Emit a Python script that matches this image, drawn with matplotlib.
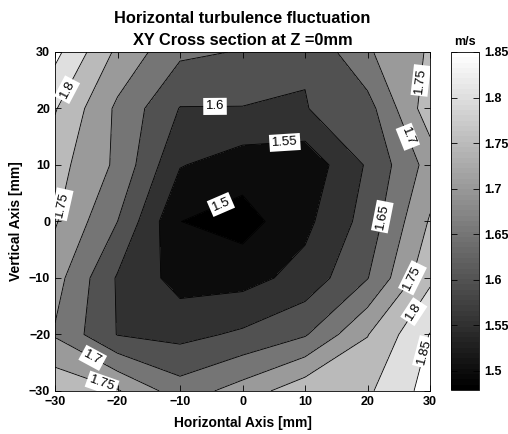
import numpy as np
import matplotlib
matplotlib.use("Agg")
import matplotlib.pyplot as plt
from matplotlib.colors import Normalize
from matplotlib.cm import ScalarMappable

plt.rcParams['font.family'] = ['Liberation Sans', 'DejaVu Sans']

# measurement grid [mm]
x_mm = [-30, -20, -10, 0, 10, 20, 30]
y_mm = [30, 20, 10, 0, -10, -20, -30]

# horizontal turbulence fluctuation [m/s], one row per y position (y = 30 first)
u_rms = [
    [1.864, 1.739, 1.660, 1.647, 1.604, 1.694, 1.756],
    [1.804, 1.690, 1.598, 1.598, 1.598, 1.630, 1.780],
    [1.770, 1.690, 1.553, 1.524, 1.515, 1.606, 1.720],
    [1.755, 1.650, 1.5005, 1.479, 1.537, 1.620, 1.755],
    [1.720, 1.595, 1.530, 1.5315, 1.568, 1.648, 1.790],
    [1.695, 1.598, 1.585, 1.6085, 1.645, 1.748, 1.852],
    [1.790, 1.755, 1.673, 1.722, 1.784, 1.792, 1.870],
]

levels = [1.5, 1.55, 1.6, 1.65, 1.7, 1.75, 1.8, 1.85]
cbar_ticks = [1.5, 1.55, 1.6, 1.65, 1.7, 1.75, 1.8, 1.85]

# where the contour labels go (x, y in mm)
label_pos = [(-27.5, 23.0), (-28.7, 3.0), (-4.4, 20.2), (6.8, 13.5),
             (-3.3, 2.6), (21.7, 1.0), (26.0, 14.8), (28.2, 25.0),
             (27.3, -10.0), (26.5, -15.3), (28.6, -23.0), (-24.0, -24.2),
             (-22.5, -28.8)]

X, Y = np.meshgrid(x_mm, y_mm)
Z = np.array(u_rms)

cmap = plt.get_cmap('gray', 64)
norm = Normalize(vmin=Z.min(), vmax=levels[-1])

# each band takes the colour of its lower level
bounds = [Z.min() - 1.0] + levels + [Z.max() + 1.0]
fill_colors = [cmap(norm(v)) for v in [Z.min()] + levels]

fig = plt.figure(figsize=(5.08, 4.34), dpi=100)
ax = fig.add_axes([0.1083, 0.0991, 0.7382, 0.7811])

ax.contourf(X, Y, Z, levels=bounds, colors=fill_colors)
cs = ax.contour(X, Y, Z, levels=levels, colors='k', linewidths=0.6)
texts = ax.clabel(cs, fmt='%g', manual=label_pos, inline=False, fontsize=9.5)
for t in texts:
    t.set_bbox(dict(facecolor='white', edgecolor='none', pad=1.8))

ax.set_xlim(-30, 30)
ax.set_ylim(-30, 30)
ax.set_xticks(range(-30, 31, 10))
ax.set_yticks(range(-30, 31, 10))
ax.tick_params(direction='in', top=True, right=True, length=4, width=0.6,
               labelsize=9)
for lbl in ax.get_xticklabels() + ax.get_yticklabels():
    lbl.set_fontweight('bold')
for sp in ax.spines.values():
    sp.set_linewidth(0.6)

ax.set_xlabel('Horizontal Axis [mm]', fontsize=10, fontweight='bold', labelpad=6)
ax.set_ylabel('Vertical Axis [mm]', fontsize=10, fontweight='bold', labelpad=4)
ax.set_title('Horizontal turbulence fluctuation\nXY Cross section at Z =0mm',
             fontsize=11.8, fontweight='bold', pad=5, linespacing=1.55)

cax = fig.add_axes([0.8878, 0.1014, 0.0551, 0.7788])
cb = fig.colorbar(ScalarMappable(norm=norm, cmap=cmap), cax=cax, ticks=cbar_ticks)
cb.set_ticklabels(['%g' % v for v in cbar_ticks])
cb.outline.set_linewidth(0.6)
cax.tick_params(direction='in', left=True, right=True, length=4, width=0.6,
                labelsize=9)
for lbl in cax.get_yticklabels():
    lbl.set_fontweight('bold')
cax.set_title('m/s', fontsize=9, fontweight='bold', pad=5)

fig.savefig('out.png', dpi=100)
